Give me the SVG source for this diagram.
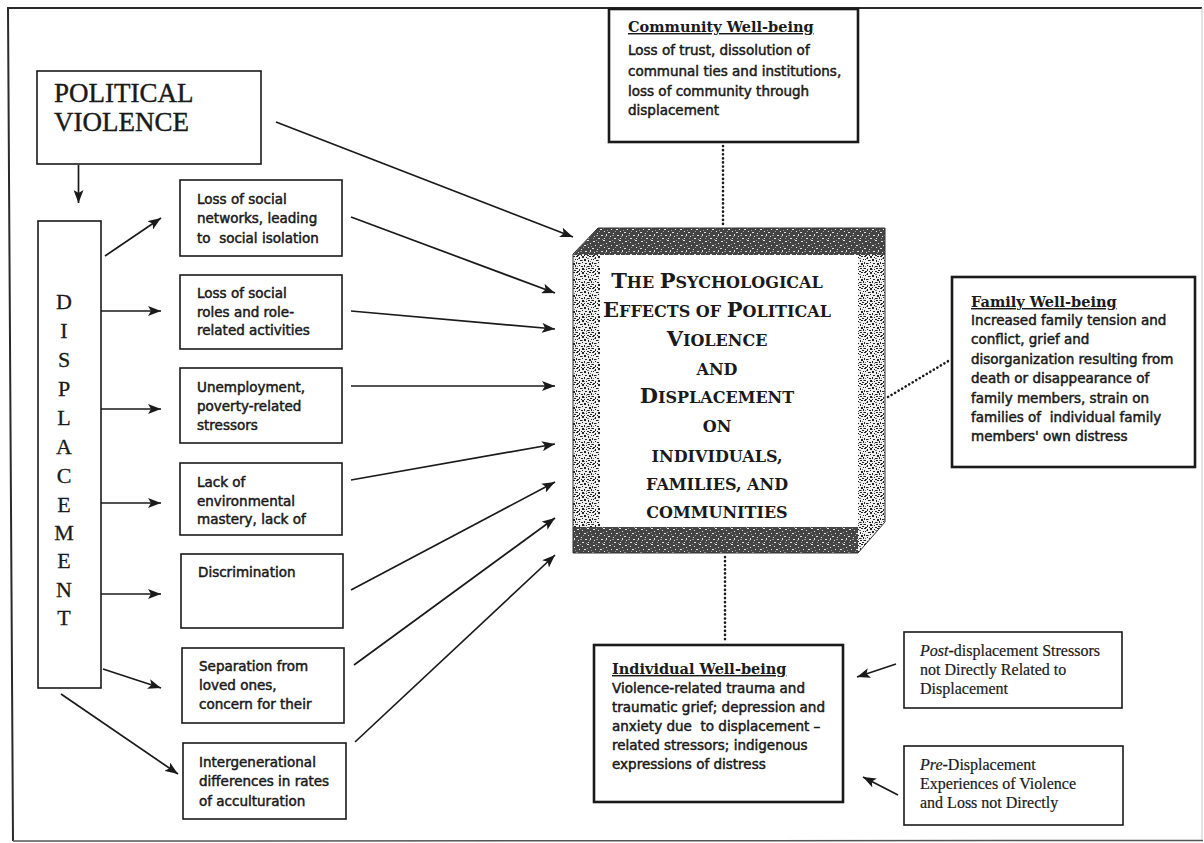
<svg xmlns="http://www.w3.org/2000/svg" width="1204" height="843" viewBox="0 0 1204 843">
<defs>
<style>
.bx{fill:#fff;stroke:#1a1a1a;stroke-width:1.6}
.bxt{fill:#fff;stroke:#1a1a1a;stroke-width:2.6}
.t{font-family:"DejaVu Sans","Liberation Sans",sans-serif;font-size:13.5px;fill:#1a1a1a;stroke:#1a1a1a;stroke-width:0.5}
.hd{font-family:"DejaVu Serif","Liberation Serif",serif;font-size:14.5px;font-weight:bold;fill:#1a1a1a;text-decoration:underline}
.sr{font-family:"Liberation Serif","Times New Roman",serif;font-size:16px;fill:#1a1a1a;stroke:#1a1a1a;stroke-width:0.2}
.big{font-family:"Liberation Serif","Times New Roman",serif;font-size:27px;fill:#1a1a1a;stroke:#1a1a1a;stroke-width:0.4}
.dl{font-family:"Liberation Serif","Times New Roman",serif;font-size:22px;fill:#1a1a1a;text-anchor:middle;stroke:#1a1a1a;stroke-width:0.3}
.ct{font-family:"DejaVu Serif","Liberation Serif",serif;font-weight:bold;font-size:16px;fill:#1a1a1a;text-anchor:middle}
.ct .b{font-size:21px}
.ar{fill:none;stroke:#1a1a1a;stroke-width:1.7;marker-end:url(#ah)}
.dt{fill:none;stroke:#1a1a1a;stroke-width:2.6;stroke-dasharray:0.1 4;stroke-linecap:round}
</style>
<marker id="ah" markerUnits="userSpaceOnUse" markerWidth="14" markerHeight="10" refX="13" refY="5" orient="auto">
<path d="M0,0 L13,5 L0,10 L3,5 Z" fill="#1a1a1a"/>
</marker>
<pattern id="lt" width="16" height="16" patternUnits="userSpaceOnUse">
<rect width="16" height="16" fill="#f0f0f0"/>
<g fill="#222">
<rect x="0" y="0" width="2" height="1"/><rect x="3" y="1" width="1" height="2"/><rect x="6" y="0" width="2" height="2"/><rect x="10" y="1" width="1" height="1"/><rect x="13" y="0" width="2" height="1"/>
<rect x="1" y="3" width="1" height="1"/><rect x="4" y="4" width="2" height="1"/><rect x="8" y="3" width="2" height="2"/><rect x="12" y="4" width="1" height="2"/><rect x="15" y="3" width="1" height="1"/>
<rect x="0" y="6" width="1" height="2"/><rect x="2" y="7" width="2" height="1"/><rect x="6" y="6" width="1" height="1"/><rect x="9" y="7" width="2" height="1"/><rect x="13" y="7" width="2" height="2"/>
<rect x="3" y="9" width="1" height="1"/><rect x="5" y="10" width="2" height="1"/><rect x="8" y="9" width="1" height="2"/><rect x="11" y="10" width="2" height="1"/><rect x="15" y="9" width="1" height="2"/>
<rect x="0" y="12" width="2" height="1"/><rect x="3" y="13" width="1" height="2"/><rect x="6" y="12" width="2" height="2"/><rect x="10" y="13" width="1" height="1"/><rect x="12" y="12" width="2" height="1"/>
<rect x="14" y="14" width="2" height="1"/><rect x="1" y="15" width="2" height="1"/><rect x="8" y="15" width="1" height="1"/><rect x="11" y="15" width="2" height="1"/><rect x="5" y="15" width="1" height="1"/>
</g>
<g fill="#777">
<rect x="2" y="2" width="1" height="1"/><rect x="11" y="2" width="2" height="1"/><rect x="6" y="4" width="1" height="1"/><rect x="14" y="5" width="1" height="1"/><rect x="1" y="10" width="1" height="1"/><rect x="10" y="11" width="1" height="1"/><rect x="13" y="10" width="1" height="1"/><rect x="4" y="7" width="1" height="1"/><rect x="8" y="13" width="1" height="1"/><rect x="15" y="12" width="1" height="1"/>
</g>
</pattern>
<pattern id="dk" width="16" height="16" patternUnits="userSpaceOnUse">
<rect width="16" height="16" fill="#444"/>
<g fill="#e6e6e6">
<rect x="1" y="1" width="2" height="1"/><rect x="6" y="2" width="1" height="1"/><rect x="11" y="0" width="2" height="1"/><rect x="14" y="3" width="1" height="1"/>
<rect x="3" y="5" width="1" height="1"/><rect x="8" y="5" width="2" height="1"/><rect x="12" y="7" width="1" height="1"/><rect x="0" y="8" width="2" height="1"/>
<rect x="5" y="9" width="1" height="1"/><rect x="9" y="11" width="2" height="1"/><rect x="14" y="10" width="1" height="2"/><rect x="2" y="12" width="1" height="1"/>
<rect x="6" y="14" width="2" height="1"/><rect x="12" y="14" width="1" height="1"/>
</g>
<g fill="#999">
<rect x="4" y="0" width="1" height="1"/><rect x="15" y="6" width="1" height="1"/><rect x="7" y="7" width="1" height="1"/><rect x="1" y="14" width="1" height="1"/><rect x="11" y="4" width="1" height="1"/><rect x="10" y="15" width="1" height="1"/><rect x="4" y="11" width="2" height="1"/><rect x="13" y="12" width="1" height="1"/>
</g>
</pattern>
</defs>
<rect width="1204" height="843" fill="#fff"/>
<g id="frame" fill="none">
<path d="M13,841 L8,8 L1202,8" stroke="#2a2a2a" stroke-width="2"/>
<line x1="13" y1="841" x2="1203" y2="840.5" stroke="#555" stroke-width="1.5"/>
<line x1="1202" y1="8" x2="1202" y2="840" stroke="#c8c8c8" stroke-width="1"/>
</g>
<g id="connectors">
<line class="ar" x1="78.5" y1="165" x2="78.5" y2="203"/>
<line class="ar" x1="105" y1="256" x2="161" y2="218"/>
<line class="ar" x1="101" y1="311" x2="161" y2="311"/>
<line class="ar" x1="101" y1="409" x2="161" y2="409"/>
<line class="ar" x1="101" y1="503" x2="161" y2="503"/>
<line class="ar" x1="101" y1="594" x2="161" y2="594"/>
<line class="ar" x1="103" y1="669" x2="161" y2="688"/>
<line class="ar" x1="61" y1="694" x2="178" y2="774"/>
<line class="ar" x1="276" y1="122" x2="573" y2="237"/>
<line class="ar" x1="351" y1="217" x2="555" y2="293"/>
<line class="ar" x1="351" y1="311" x2="555" y2="329"/>
<line class="ar" x1="351" y1="386" x2="555" y2="386"/>
<line class="ar" x1="351" y1="480" x2="555" y2="444"/>
<line class="ar" x1="351" y1="590" x2="555" y2="482"/>
<line class="ar" x1="354" y1="665" x2="555" y2="518"/>
<line class="ar" x1="355" y1="742" x2="555" y2="555"/>
<line class="ar" x1="896" y1="664" x2="857" y2="677"/>
<line class="ar" x1="898" y1="795" x2="863" y2="777"/>
<line class="dt" x1="723" y1="146" x2="723" y2="226"/>
<line class="dt" x1="725" y1="557" x2="725" y2="643"/>
<line class="dt" x1="888" y1="397" x2="950" y2="360"/>
</g>
<g id="political-violence">
<rect class="bx" x="37" y="71" width="224" height="93"/>
<text class="big" x="54" y="102">POLITICAL</text>
<text class="big" x="54" y="131">VIOLENCE</text>
</g>
<g id="displacement">
<rect class="bx" x="38" y="221" width="63" height="467"/>
<text class="dl" x="64" y="309">D</text>
<text class="dl" x="64" y="338">I</text>
<text class="dl" x="64" y="367">S</text>
<text class="dl" x="64" y="396">P</text>
<text class="dl" x="64" y="425">L</text>
<text class="dl" x="64" y="454">A</text>
<text class="dl" x="64" y="483">C</text>
<text class="dl" x="64" y="512">E</text>
<text class="dl" x="64" y="540">M</text>
<text class="dl" x="64" y="568">E</text>
<text class="dl" x="64" y="597">N</text>
<text class="dl" x="64" y="625">T</text>
</g>
<g id="social-networks">
<rect class="bx" x="180" y="180" width="162" height="76"/>
<text class="t" x="197" y="204">Loss of social</text>
<text class="t" x="197" y="223">networks, leading</text>
<text class="t" x="197" y="243" xml:space="preserve">to  social isolation</text>
</g>
<g id="social-roles">
<rect class="bx" x="180" y="275" width="162" height="74"/>
<text class="t" x="197" y="298">Loss of social</text>
<text class="t" x="197" y="317">roles and role-</text>
<text class="t" x="197" y="335">related activities</text>
</g>
<g id="unemployment">
<rect class="bx" x="180" y="368" width="162" height="75"/>
<text class="t" x="197" y="392">Unemployment,</text>
<text class="t" x="197" y="411">poverty-related</text>
<text class="t" x="197" y="430">stressors</text>
</g>
<g id="mastery">
<rect class="bx" x="180" y="463" width="162" height="72"/>
<text class="t" x="197" y="487">Lack of</text>
<text class="t" x="197" y="506">environmental</text>
<text class="t" x="197" y="524">mastery, lack of</text>
</g>
<g id="discrimination">
<rect class="bx" x="181" y="554" width="162" height="74"/>
<text class="t" x="198" y="577">Discrimination</text>
</g>
<g id="separation">
<rect class="bx" x="182" y="648" width="162" height="75"/>
<text class="t" x="199" y="671">Separation from</text>
<text class="t" x="199" y="690">loved ones,</text>
<text class="t" x="199" y="709">concern for their</text>
</g>
<g id="intergenerational">
<rect class="bx" x="183" y="743" width="163" height="76"/>
<text class="t" x="199" y="767">Intergenerational</text>
<text class="t" x="199" y="786">differences in rates</text>
<text class="t" x="199" y="806">of acculturation</text>
</g>
<g id="center">
<path d="M598,228 L885,228 L885,522 L858,553 L573,553 L573,254 Z" fill="url(#lt)"/>
<path d="M598,228 L885,228 L885,255 L573,255 Z" fill="url(#dk)"/>
<path d="M573,527 L858,527 L858,553 L573,553 Z" fill="url(#dk)"/>
<rect x="600" y="255" width="258" height="272" fill="#fff"/>
<path d="M598,228 L885,228 L885,522 L858,553 L573,553 L573,254 Z" fill="none" stroke="#333" stroke-width="1"/>
<text class="ct" x="717" y="288"><tspan class="b">T</tspan>HE <tspan class="b">P</tspan>SYCHOLOGICAL</text>
<text class="ct" x="717" y="317"><tspan class="b">E</tspan>FFECTS OF <tspan class="b">P</tspan>OLITICAL</text>
<text class="ct" x="717" y="346"><tspan class="b">V</tspan>IOLENCE</text>
<text class="ct" x="717" y="375">AND</text>
<text class="ct" x="717" y="403"><tspan class="b">D</tspan>ISPLACEMENT</text>
<text class="ct" x="717" y="432">ON</text>
<text class="ct" x="717" y="462">INDIVIDUALS,</text>
<text class="ct" x="717" y="490">FAMILIES, AND</text>
<text class="ct" x="717" y="518">COMMUNITIES</text>
</g>
<g id="community">
<rect class="bxt" x="609" y="9" width="249" height="133"/>
<text class="hd" x="628" y="32">Community Well-being</text>
<text class="t" x="628" y="55">Loss of trust, dissolution of</text>
<text class="t" x="628" y="76">communal ties and institutions,</text>
<text class="t" x="628" y="96">loss of community through</text>
<text class="t" x="628" y="115">displacement</text>
</g>
<g id="family">
<rect class="bxt" x="952" y="277" width="243" height="190"/>
<text class="hd" x="971" y="307">Family Well-being</text>
<text class="t" x="971" y="325">Increased family tension and</text>
<text class="t" x="971" y="344">conflict, grief and</text>
<text class="t" x="971" y="364">disorganization resulting from</text>
<text class="t" x="971" y="383">death or disappearance of</text>
<text class="t" x="971" y="403">family members, strain on</text>
<text class="t" x="971" y="422" xml:space="preserve">families of  individual family</text>
<text class="t" x="971" y="441">members' own distress</text>
</g>
<g id="individual">
<rect class="bxt" x="594" y="645" width="249" height="157"/>
<text class="hd" x="612" y="674">Individual Well-being</text>
<text class="t" x="612" y="693">Violence-related trauma and</text>
<text class="t" x="612" y="712">traumatic grief; depression and</text>
<text class="t" x="612" y="731" xml:space="preserve">anxiety due  to displacement –</text>
<text class="t" x="612" y="750">related stressors; indigenous</text>
<text class="t" x="612" y="769">expressions of distress</text>
</g>
<g id="post-displacement">
<rect class="bx" x="904" y="632" width="218" height="76"/>
<text class="sr" x="920" y="656"><tspan font-style="italic">Post</tspan>-displacement Stressors</text>
<text class="sr" x="920" y="675">not Directly Related to</text>
<text class="sr" x="920" y="694">Displacement</text>
</g>
<g id="pre-displacement">
<rect class="bx" x="904" y="746" width="219" height="79"/>
<text class="sr" x="920" y="770"><tspan font-style="italic">Pre</tspan>-Displacement</text>
<text class="sr" x="920" y="789">Experiences of Violence</text>
<text class="sr" x="920" y="808">and Loss not Directly</text>
</g>
</svg>
